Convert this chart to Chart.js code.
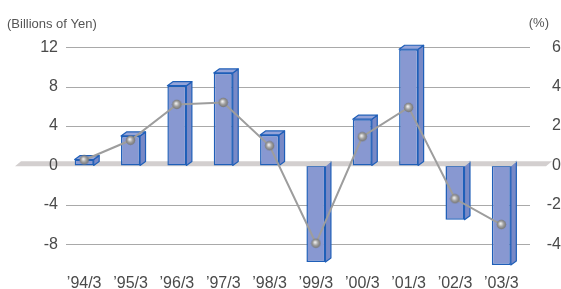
<!DOCTYPE html>
<html lang="en">
<head>
<meta charset="UTF-8">
<title>Net Income</title>
<script src="https://cdn.jsdelivr.net/npm/chart.js"></script>
<style>
  html, body { margin: 0; padding: 0; background: #fff; }
</style>
</head>
<body>
<canvas id="grafico" width="561" height="289"></canvas>
<script>
    // fiscal years (March year-end)
    const anos = ['’94/3', '’95/3', '’96/3', '’97/3', '’98/3', '’99/3', '’00/3', '’01/3', '’02/3', '’03/3'];
    // bars: billions of yen (left axis)
    const valoresYen = [0.6, 3.0, 8.1, 9.4, 3.1, -9.8, 4.7, 11.8, -5.5, -10.1];
    // line: % (right axis)
    const valoresPct = [0.28, 1.28, 3.1, 3.2, 1.0, -3.95, 1.46, 2.95, -1.69, -3.0];
    const ticksYen = [12, 8, 4, 0, -4, -8];
    const ticksPct = [6, 4, 2, 0, -2, -4];

    const fonte = '"Liberation Sans", Arial, sans-serif';
    const corTexto = '#4a4a4a';
    const dx = 5.5, dy = 4;   // profundidade 3D

    // bolinha cinza dos pontos da linha
    function criarEsfera() {
        const c = document.createElement('canvas');
        c.width = 11; c.height = 11;
        const g = c.getContext('2d');
        const grad = g.createRadialGradient(4.6, 4.4, 0.4, 5.5, 5.5, 5.2);
        grad.addColorStop(0, '#f2f2f2');
        grad.addColorStop(0.45, '#a3a3a3');
        grad.addColorStop(1, '#6a6a6a');
        g.fillStyle = grad;
        g.beginPath();
        g.arc(5.5, 5.5, 4.7, 0, Math.PI * 2);
        g.fill();
        return c;
    }

    function faixaZero(ctx, chart, x1, x2) {
        const y0 = chart.scales.y.getPixelForValue(0);
        ctx.fillStyle = '#d3cfcf';
        ctx.beginPath();
        ctx.moveTo(x1, y0 + 0.8);
        ctx.lineTo(x1 + 6, y0 - 4.2);
        ctx.lineTo(x2 + 6, y0 - 4.2);
        ctx.lineTo(x2, y0 + 0.8);
        ctx.closePath();
        ctx.fill();
    }

    const efeito3d = {
        id: 'efeito3d',
        // antes das escalas, para os rotulos ficarem por cima
        beforeDraw(chart) {
            const { ctx, chartArea } = chart;
            const y = chart.scales.y;
            ctx.save();
            ctx.strokeStyle = '#a9a9a9';
            ctx.lineWidth = 1.2;
            ticksYen.forEach(v => {
                if (v === 0) return;
                const py = Math.round(y.getPixelForValue(v)) + 0.5;
                ctx.beginPath();
                ctx.moveTo(chartArea.left + 5, py);
                ctx.lineTo(chartArea.right + dx, py);
                ctx.stroke();
            });
            faixaZero(ctx, chart, 15, 546);
            ctx.restore();
        },
        afterDatasetDraw(chart, args) {
            if (chart.data.datasets[args.index].type !== 'bar') return;
            const ctx = chart.ctx;
            ctx.save();
            ctx.strokeStyle = '#1f5fb8';
            ctx.lineWidth = 1.2;
            ctx.lineJoin = 'round';
            args.meta.data.forEach((el, i) => {
                const p = el.getProps(['x', 'y', 'base', 'width'], true);
                const esq = p.x - p.width / 2, dir = p.x + p.width / 2;
                const topo = Math.min(p.y, p.base), fundo = Math.max(p.y, p.base);
                // face lateral
                ctx.fillStyle = '#7889c6';
                ctx.beginPath();
                ctx.moveTo(dir, topo);
                ctx.lineTo(dir + dx, topo - dy);
                ctx.lineTo(dir + dx, fundo - dy);
                ctx.lineTo(dir, fundo);
                ctx.closePath();
                ctx.fill();
                ctx.stroke();
                if (valoresYen[i] < 0) {
                    // barras negativas ficam atras da faixa do zero
                    faixaZero(ctx, chart, esq - 1, dir + dx - 5);
                    return;
                }
                // face de cima
                ctx.fillStyle = '#95a4d9';
                ctx.beginPath();
                ctx.moveTo(esq, topo);
                ctx.lineTo(esq + dx, topo - dy);
                ctx.lineTo(dir + dx, topo - dy);
                ctx.lineTo(dir, topo);
                ctx.closePath();
                ctx.fill();
                ctx.stroke();
            });
            ctx.restore();
        },
        afterDraw(chart) {
            const ctx = chart.ctx;
            ctx.save();
            ctx.font = '13px ' + fonte;
            ctx.fillStyle = '#555';
            ctx.textBaseline = 'middle';
            ctx.textAlign = 'left';
            ctx.fillText('(Billions of Yen)', 7, 24);
            ctx.textAlign = 'right';
            ctx.fillText('(%)', 549, 23.5);
            ctx.restore();
        }
    };

    const ctx = document.getElementById('grafico');

    new Chart(ctx, {
        type: 'bar',
        data: {
            labels: anos,
            datasets: [{
                type: 'line',
                data: valoresPct,
                yAxisID: 'y2',
                borderColor: '#9d9d9d',
                borderWidth: 2,
                pointStyle: criarEsfera(),
                order: 0,
                clip: false
            }, {
                type: 'bar',
                data: valoresYen,
                yAxisID: 'y',
                backgroundColor: '#8898d1',
                borderColor: '#1f5fb8',
                borderWidth: 1.5,
                borderSkipped: false,
                barPercentage: 0.41,
                categoryPercentage: 1,
                order: 1,
                clip: false
            }]
        },
        options: {
            responsive: false,
            animation: false,
            layout: { padding: { top: 47.3, left: 0, right: 0, bottom: 0 } },
            plugins: {
                legend: { display: false },
                tooltip: { enabled: false }
            },
            scales: {
                x: {
                    grid: { display: false, drawTicks: false },
                    border: { display: false },
                    ticks: { font: { family: fonte, size: 16 }, color: corTexto, padding: 5, maxRotation: 0, autoSkip: false },
                    afterFit: s => { s.height = 20.1; }
                },
                y: {
                    position: 'left',
                    min: -10.5,
                    max: 12,
                    grid: { display: false, drawTicks: false },
                    border: { display: false },
                    ticks: { font: { family: fonte, size: 16 }, color: corTexto, padding: 3 },
                    afterBuildTicks: s => { s.ticks = ticksYen.map(v => ({ value: v })); },
                    afterFit: s => { s.width = 61; }
                },
                y2: {
                    position: 'right',
                    min: -5.25,
                    max: 6,
                    grid: { display: false, drawTicks: false },
                    border: { display: false },
                    ticks: { font: { family: fonte, size: 16 }, color: corTexto, padding: 8, crossAlign: 'far' },
                    afterBuildTicks: s => { s.ticks = ticksPct.map(v => ({ value: v })); },
                    afterFit: s => { s.width = 36.5; }
                }
            }
        },
        plugins: [efeito3d]
    });
</script>
</body>
</html>
